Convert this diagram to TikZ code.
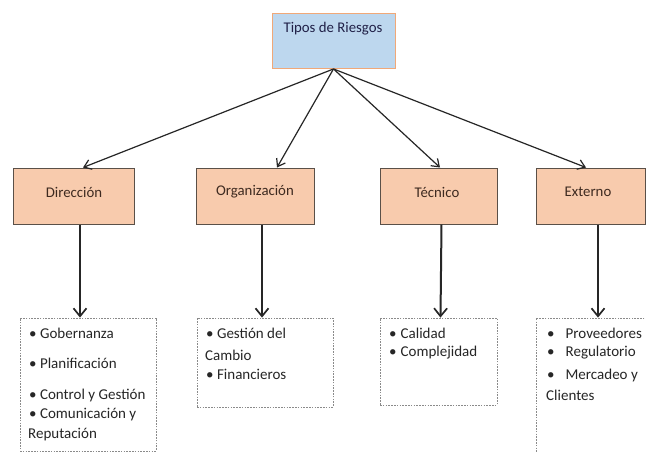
\documentclass[tikz,border=0pt]{standalone}
\usepackage{fontspec}
\setmainfont{Carlito}
\usetikzlibrary{arrows.meta}
\definecolor{topfill}{HTML}{BDD7EE}
\definecolor{topdraw}{HTML}{F0A878}
\definecolor{orfill}{HTML}{F8CBAD}
\definecolor{ordraw}{HTML}{5A5048}
\definecolor{txt}{HTML}{262626}
\definecolor{ortxt}{HTML}{3E2A20}
\definecolor{dashc}{HTML}{8A8A8A}
\tikzset{
  topbox/.style={draw=topdraw, fill=topfill, line width=0.9pt, inner sep=0pt},
  catbox/.style={draw=ordraw, fill=orfill, line width=1pt, inner sep=0pt},
  listbox/.style={draw=dashc, line width=0.8pt, dash pattern=on 1.6pt off 1.2pt, inner sep=0pt},
  lbl/.style={font=\fontsize{14.8}{17}\selectfont, text=ortxt, inner sep=0pt},
  item/.style={font=\fontsize{15}{17}\selectfont, text=txt, inner sep=0pt, anchor=west},
  thinarr/.style={draw=black!85, line width=1.2pt, -{Straight Barb[length=7pt,width=10pt,line width=1.2pt]}},
  thickarr/.style={draw=black!85, line width=2pt, -{Straight Barb[length=8pt,width=13pt,line width=1.7pt]}}
}
\begin{document}
\begin{tikzpicture}[x=1pt,y=-1pt]
\useasboundingbox (0,0) rectangle (646,452);
\clip (0,0) rectangle (646,452);
\fill[white] (0,0) rectangle (646,452);
% top box
\node[topbox, minimum width=123pt, minimum height=55pt] (top) at (333.5,41) {};
\node[lbl, text=txt!85!blue] (toplbl) at (333,29) {Tipos de Riesgos};
% category boxes
\node[catbox, minimum width=121pt, minimum height=56pt] (dir) at (73.5,196) {};
\node[lbl] (dirlbl) at (74,192) {Dirección};
\node[catbox, minimum width=118pt, minimum height=56pt] (org) at (255,196) {};
\node[lbl] (orglbl) at (255,192) {Organización};
\node[catbox, minimum width=117pt, minimum height=56pt] (tec) at (438.5,196) {};
\node[lbl] (teclbl) at (437,192) {Técnico};
\node[catbox, minimum width=109pt, minimum height=56pt] (ext) at (590.5,196) {};
\node[lbl] (extlbl) at (588,192) {Externo};
% list boxes
\node[listbox, minimum width=136pt, minimum height=133pt] (dirL) at (88,384.5) {};
\node[listbox, minimum width=136pt, minimum height=89pt] (orgL) at (265,362.5) {};
\node[listbox, minimum width=117pt, minimum height=87pt] (tecL) at (438.5,361.5) {};
\node[listbox, minimum width=140pt, minimum height=170pt] (extL) at (606,403) {};
% list texts
\node[item] (d1) at (29,333) {• Gobernanza};
\node[item] (d2) at (29,363) {• Planificación};
\node[item] (d3) at (29,395) {• Control y Gestión};
\node[item] (d4) at (29,415) {• Comunicación y};
\node[item] (d5) at (28,435) {Reputación};
\node[item] (o1) at (206,333) {• Gestión del};
\node[item] (o2) at (205,355) {Cambio};
\node[item] (o3) at (206,374) {• Financieros};
\node[item] (t1) at (389,333) {•\hspace{4pt}Calidad};
\node[item] (t2) at (389,353) {•\hspace{4pt}Complejidad};
\node[item] (e1) at (547,333) {•\hspace{11pt}Proveedores};
\node[item] (e2) at (547,353) {•\hspace{11pt}Regulatorio};
\node[item] (e3) at (547,375) {•\hspace{11pt}Mercadeo y};
\node[item] (e4) at (546,395) {Clientes};
% connectors
\draw[thinarr] (top.south) -- ([xshift=9.5pt]dir.north);
\draw[thinarr] (top.south) -- ([xshift=22pt]org.north);
\draw[thinarr] (top.south) -- ([xshift=1.5pt]tec.north);
\draw[thinarr] (top.south) -- ([xshift=-4.5pt]ext.north);
\draw[thickarr] ([xshift=6.5pt]dir.south) -- ([xshift=-8pt]dirL.north);
\draw[thickarr] ([xshift=7pt]org.south) -- ([xshift=-3pt]orgL.north);
\draw[thickarr] ([xshift=3pt]tec.south) -- ([xshift=2pt]tecL.north);
\draw[thickarr] ([xshift=7.5pt]ext.south) -- ([xshift=-8pt]extL.north);
\end{tikzpicture}
\end{document}
